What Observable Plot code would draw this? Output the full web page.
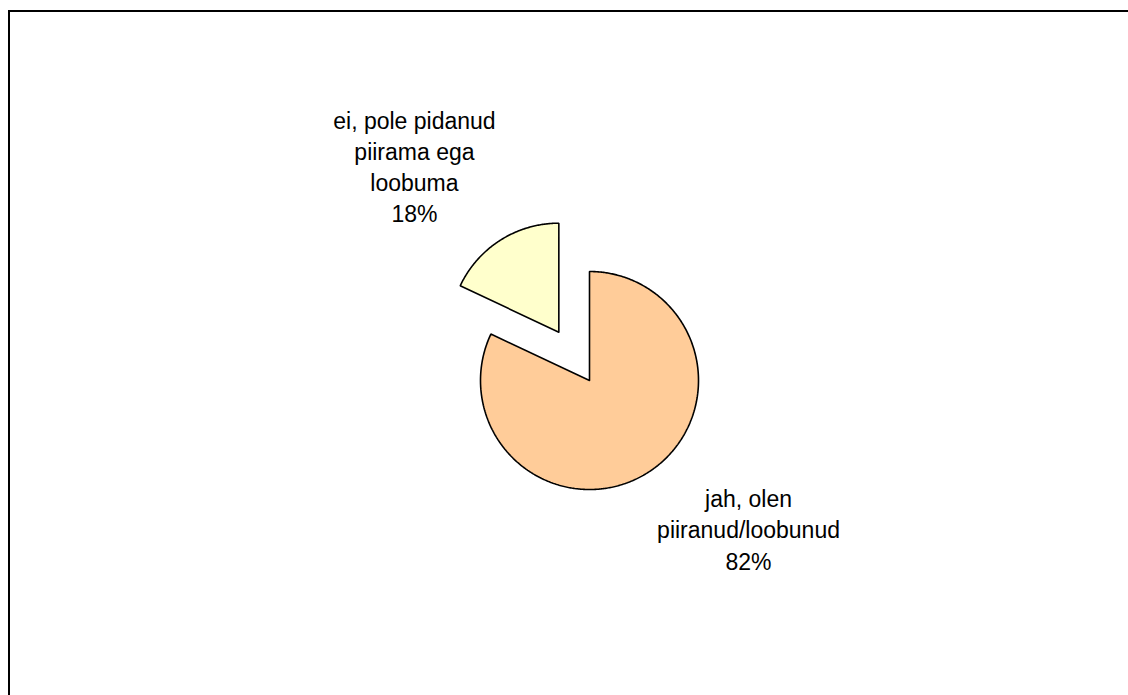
<!DOCTYPE html>
<html>
<head>
<meta charset="utf-8">
<script src="https://cdn.jsdelivr.net/npm/d3@7"></script>
<script src="https://cdn.jsdelivr.net/npm/@observablehq/plot@0.6"></script>
<style>
  html, body { margin: 0; padding: 0; background: #fff; overflow: hidden; }
  #wrap { position: relative; width: 1128px; height: 695px; }
  #border { position: absolute; left: 8px; top: 10px; width: 1200px; height: 800px;
            border-top: 2px solid #000; border-left: 2px solid #000; pointer-events: none; }
  #chart { position: absolute; left: 0; top: 0; }
</style>
</head>
<body>
<div id="wrap"><div id="chart"></div><div id="border"></div></div>
<script>
// ---- data ----
const categories = ["jah, olen piiranud/loobunud", "ei, pole pidanud piirama ega loobuma"];
const labelLines = [["jah, olen", "piiranud/loobunud"], ["ei, pole pidanud", "piirama ega", "loobuma"]];
const values = [82, 18];
const colors = ["#FFCC99", "#FFFFCC"];

// ---- layout (pixel geometry of the page) ----
const W = 1128, H = 695;
const cx = 589, cy = 380, R = 109;          // pie centre and radius in px
const explode = [0, 0.525];                 // explode offset, in radii
const labelPos = [[1.459, -1.358], [-1.606, 1.972]]; // label centres in radii

const total = d3.sum(values);
const arcs = d3.pie().sort(null).value(d => d)(values);

// build polygons in unit-radius coordinates (y up)
const poly = [];
arcs.forEach((a, i) => {
  const mid = (a.startAngle + a.endAngle) / 2;
  const ox = Math.sin(mid) * explode[i], oy = Math.cos(mid) * explode[i];
  const n = Math.max(8, Math.ceil((a.endAngle - a.startAngle) / 0.01));
  poly.push({k: i, x: ox, y: oy});
  for (let j = 0; j <= n; j++) {
    const t = a.startAngle + (a.endAngle - a.startAngle) * j / n;
    poly.push({k: i, x: ox + Math.sin(t), y: oy + Math.cos(t)});
  }
  poly.push({k: i, x: ox, y: oy});
});

const labels = categories.map((c, i) => ({
  text: labelLines[i].join("\n") + "\n" + Math.round(values[i] / total * 100) + "%",
  x: labelPos[i][0], y: labelPos[i][1]
}));

const chart = Plot.plot({
  width: W, height: H,
  margin: 0,
  style: {background: "transparent", fontFamily: "'Liberation Sans', Arial, sans-serif"},
  x: {domain: [-cx / R, (W - cx) / R], axis: null},
  y: {domain: [-(H - cy) / R, cy / R], axis: null},
  marks: [
    Plot.line(poly, {x: "x", y: "y", z: "k", fill: d => colors[d.k], stroke: "#000",
      strokeWidth: 1.6, strokeLinejoin: "miter", curve: "linear"}),
    Plot.text(labels, {x: "x", y: "y", text: "text", fontSize: 23, lineHeight: 1.35,
      fill: "#000", textAnchor: "middle"})
  ]
});
document.getElementById("chart").appendChild(chart);
</script>
</body>
</html>
